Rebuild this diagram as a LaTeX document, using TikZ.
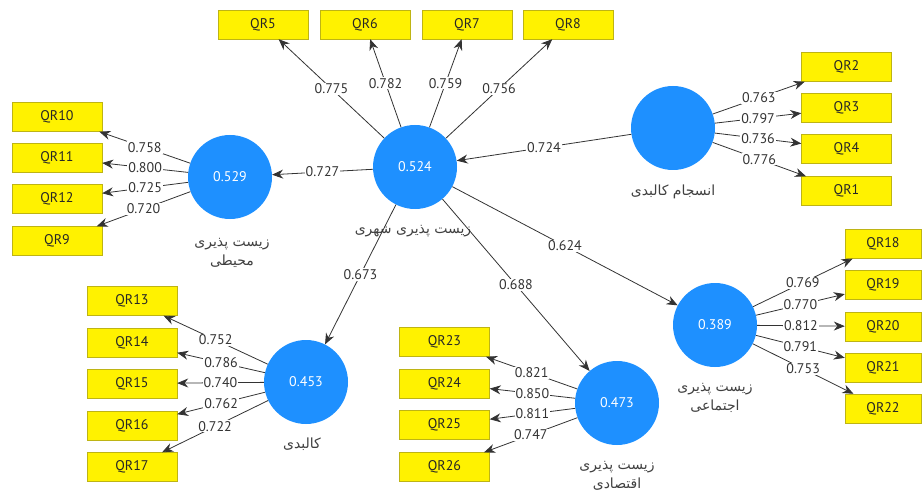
\documentclass[tikz,border=0pt]{standalone}
\usepackage{fontspec}
\setmainfont{PT Sans}
\newfontfamily\farsifont[Script=Arabic]{DejaVu Sans}
\TeXXeTstate=1
\usetikzlibrary{arrows.meta}
\definecolor{plsblue}{RGB}{30,144,255}
\definecolor{boxline}{RGB}{190,180,20}
\tikzset{
  item/.style={rectangle, draw=boxline, fill=yellow, minimum width=90pt, minimum height=29pt, inner sep=0pt, text=black!85, font=\fontsize{14}{14}\selectfont},
  latent/.style={circle, fill=plsblue, minimum size=84pt, inner sep=0pt, text=white, font=\fontsize{14}{14}\selectfont},
  load/.style={draw=black!80, line width=0.8pt, -{Stealth[length=11pt,width=9pt]}},
  val/.style={fill=white, inner sep=1pt, text=black!80, font=\fontsize{14}{14}\selectfont},
  fa/.style={align=center, font=\farsifont\fontsize{14}{19}\selectfont, text=black!75}
}
\begin{document}
\begin{tikzpicture}[x=1pt,y=-1pt]
			%%%%% START %%%%%
			\useasboundingbox (0,0) rectangle (924,492);
			
			\node[latent] (urban) at (415, 167) {0.524};
			\node[latent] (env) at (230, 177) {0.529};
			\node[latent] (cohesion) at (673, 128) {};
			\node[latent] (phys) at (306, 382) {0.453};
			\node[latent] (econ) at (617, 403) {0.473};
			\node[latent] (soc) at (715, 325) {0.389};
			
			\node[fa] (urbanlbl) at (413, 231) {\beginR زیست پذیری شهری\endR};
			\node[fa] (envlbl) at (232, 253) {\beginR زیست پذیری\endR\\\beginR محیطی\endR};
			\node[fa] (cohesionlbl) at (673, 192) {\beginR انسجام کالبدی\endR};
			\node[fa] (physlbl) at (302, 444) {\beginR کالبدی\endR};
			\node[fa] (econlbl) at (617, 476) {\beginR زیست پذیری\endR\\\beginR اقتصادی\endR};
			\node[fa] (soclbl) at (715, 398) {\beginR زیست پذیری\endR\\\beginR اجتماعی\endR};
			
			% top row
			\node[item] (qr5) at (263, 24.5) {QR5};
			\node[item] (qr6) at (365, 24.5) {QR6};
			\node[item] (qr7) at (467, 24.5) {QR7};
			\node[item] (qr8) at (568, 24.5) {QR8};
			
			% upper right
			\node[item] (qr2) at (846.5, 67) {QR2};
			\node[item] (qr3) at (846.5, 108) {QR3};
			\node[item] (qr4) at (846.5, 149) {QR4};
			\node[item] (qr1) at (846.5, 191) {QR1};
			
			% left
			\node[item] (qr10) at (57, 117) {QR10};
			\node[item] (qr11) at (57, 158) {QR11};
			\node[item] (qr12) at (57, 199) {QR12};
			\node[item] (qr9) at (57, 241) {QR9};
			
			% lower left
			\node[item] (qr13) at (132, 301) {QR13};
			\node[item] (qr14) at (132, 342.5) {QR14};
			\node[item] (qr15) at (132, 383.5) {QR15};
			\node[item] (qr16) at (132, 425.5) {QR16};
			\node[item] (qr17) at (132, 467) {QR17};
			
			% bottom middle
			\node[item] (qr23) at (444.5, 342) {QR23};
			\node[item] (qr24) at (444.5, 383.5) {QR24};
			\node[item] (qr25) at (444.5, 425) {QR25};
			\node[item] (qr26) at (444.5, 467) {QR26};
			
			% lower right
			\node[item, minimum width=76pt] (qr18) at (883, 244) {QR18};
			\node[item, minimum width=76pt] (qr19) at (883, 285) {QR19};
			\node[item, minimum width=76pt] (qr20) at (883, 326.5) {QR20};
			\node[item, minimum width=76pt] (qr21) at (883, 367.5) {QR21};
			\node[item, minimum width=76pt] (qr22) at (883, 408.5) {QR22};
			
			% paths
			\draw[load] (cohesion) -- node[val] {0.724} (urban);
			\draw[load] (urban) -- node[val] {0.727} (env);
			\draw[load] (urban) -- node[val] {0.673} (phys);
			\draw[load] (urban) -- node[val] {0.688} (econ);
			\draw[load] (urban) -- node[val] {0.624} (soc);
			
			% loadings
			\draw[load] (urban) -- node[val] {0.775} (qr5);
			\draw[load] (urban) -- node[val] {0.782} (qr6);
			\draw[load] (urban) -- node[val] {0.759} (qr7);
			\draw[load] (urban) -- node[val] {0.756} (qr8);
			
			\draw[load] (cohesion) -- node[val] {0.763} (qr2);
			\draw[load] (cohesion) -- node[val] {0.797} (qr3);
			\draw[load] (cohesion) -- node[val] {0.736} (qr4);
			\draw[load] (cohesion) -- node[val] {0.776} (qr1);
			
			\draw[load] (env) -- node[val] {0.758} (qr10);
			\draw[load] (env) -- node[val] {0.800} (qr11);
			\draw[load] (env) -- node[val] {0.725} (qr12);
			\draw[load] (env) -- node[val] {0.720} (qr9);
			
			\draw[load] (phys) -- node[val] {0.752} (qr13);
			\draw[load] (phys) -- node[val] {0.786} (qr14);
			\draw[load] (phys) -- node[val] {0.740} (qr15);
			\draw[load] (phys) -- node[val] {0.762} (qr16);
			\draw[load] (phys) -- node[val] {0.722} (qr17);
			
			\draw[load] (econ) -- node[val] {0.821} (qr23);
			\draw[load] (econ) -- node[val] {0.850} (qr24);
			\draw[load] (econ) -- node[val] {0.811} (qr25);
			\draw[load] (econ) -- node[val] {0.747} (qr26);
			
			\draw[load] (soc) -- node[val] {0.769} (qr18);
			\draw[load] (soc) -- node[val] {0.770} (qr19);
			\draw[load] (soc) -- node[val] {0.812} (qr20);
			\draw[load] (soc) -- node[val] {0.791} (qr21);
			\draw[load] (soc) -- node[val] {0.753} (qr22);
			
			%%%%% END %%%%%
\end{tikzpicture}
\end{document}
